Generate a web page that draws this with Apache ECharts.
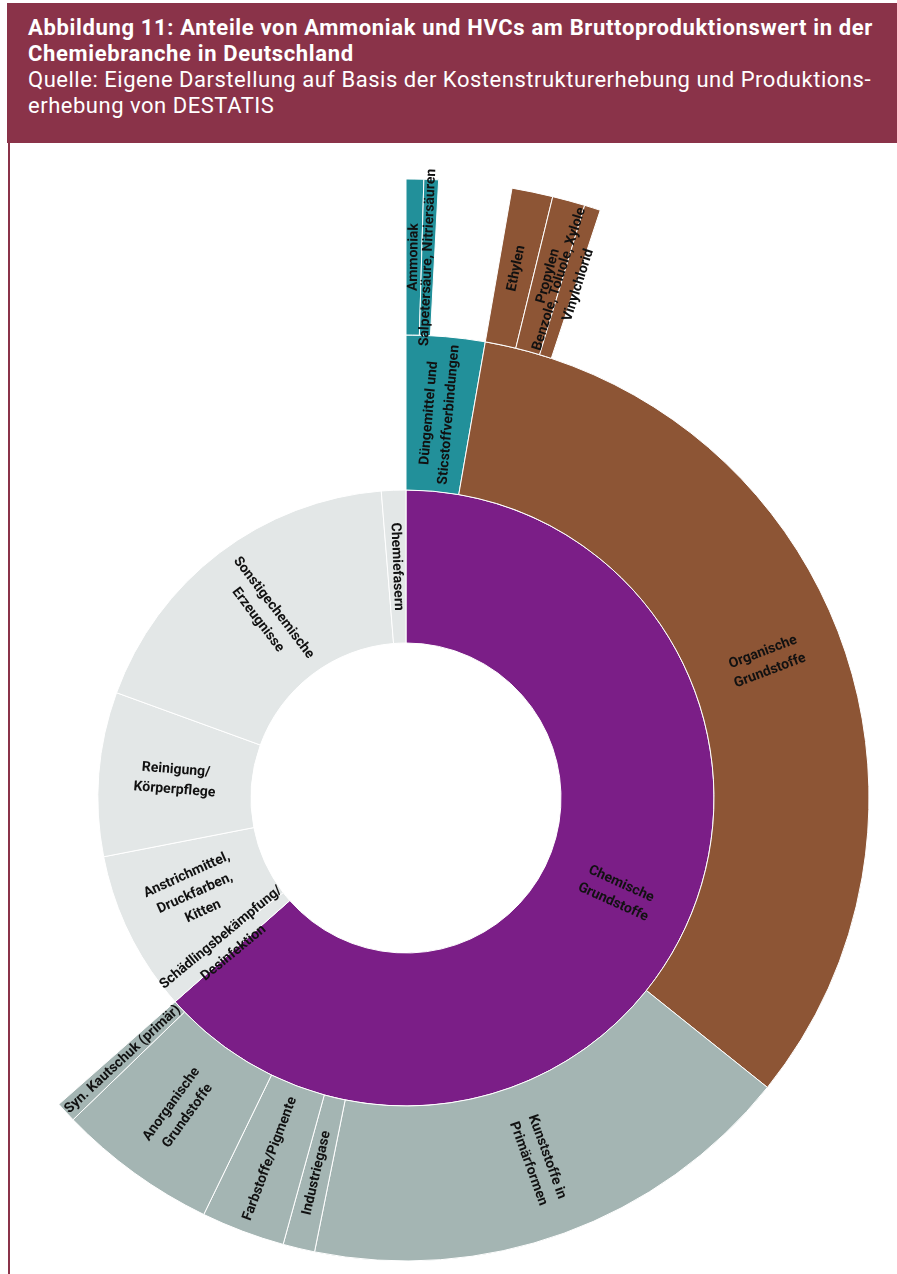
<!DOCTYPE html>
<html>
<head>
<meta charset="utf-8">
<script src="https://cdn.jsdelivr.net/npm/echarts@6/dist/echarts.min.js"></script>
<style>
  html, body { margin: 0; padding: 0; background: #fff; }
  body { width: 897px; height: 1274px; position: relative; overflow: hidden; font-family: Roboto, "Noto Sans", sans-serif; }
  #chart { position: absolute; left: 0; top: 0; width: 897px; height: 1274px; }
  #head { position: absolute; left: 7px; top: 3px; width: 890px; height: 140px; background: #8a3349; color: #fff; z-index: 2; }
  #head .ln { position: absolute; left: 21px; white-space: nowrap; font-size: 22px; line-height: 26px; }
  #head .b { font-weight: bold; }
  #rule { position: absolute; left: 8px; top: 143px; width: 2px; height: 1131px; background: #8a3349; z-index: 2; }
</style>
</head>
<body>
<div id="head">
  <div class="ln b" id="t1" style="top:12px">Abbildung 11: Anteile von Ammoniak und HVCs am Bruttoproduktionswert in der</div>
  <div class="ln b" id="t2" style="top:38px">Chemiebranche in Deutschland</div>
  <div class="ln" id="t3" style="top:64px">Quelle: Eigene Darstellung auf Basis der Kostenstrukturerhebung und Produktions-</div>
  <div class="ln" id="t4" style="top:90px">erhebung von DESTATIS</div>
</div>
<div id="rule"></div>
<div id="chart"></div>
<script>
// Shares of the gross production value of the chemical industry (in %)

// Inner ring: product groups
const sectorNames = [
  'Chemische\nGrundstoffe',
  'Schädlingsbekämpfung/\nDesinfektion',
  'Anstrichmittel,\nDruckfarben,\nKitten',
  'Reinigung/\nKörperpflege',
  'Sonstigechemische\nErzeugnisse',
  'Chemiefasern'
];
// first entry is the sum of its sub-groups
const sectorValues = [null, 1.06, 7.39, 8.61, 18.17, 1.28];

// Middle ring: sub-groups of "Chemische Grundstoffe"
const basicNames = [
  'Düngemittel und\nSticstoffverbindungen',
  'Organische\nGrundstoffe',
  'Kunststoffe in\nPrimärformen',
  'Industriegase',
  'Farbstoffe/Pigmente',
  'Anorganische\nGrundstoffe',
  'Syn. Kautschuk (primär)'
];
const basicValues = [2.74, 33.01, 17.42, 1.11, 2.92, 5.58, 0.72];

// Outer ring: single products
const nitrogenNames = ['Ammoniak', 'Salpetersäure, Nitriersäuren'];
const nitrogenValues = [0.46, 0.38];
const organicNames = ['Ethylen', 'Propylen', 'Benzole, Toluole, Xylole\nVinylchlorid'];
const organicValues = [1.07, 0.85, 0.42];

const PURPLE = '#7b1e87';
const BROWN = '#8d5535';
const TEAL = '#22909a';
const SAGE = '#a4b5b3';
const PALE = '#e3e7e7';

function leaves(names, values, color) {
  return names.map((name, i) => ({ name, value: values[i], itemStyle: { color } }));
}

const basicChildren = basicNames.map((name, i) => {
  const color = i === 0 ? TEAL : i === 1 ? BROWN : SAGE;
  const node = { name, value: basicValues[i], itemStyle: { color } };
  if (i === 0) node.children = leaves(nitrogenNames, nitrogenValues, TEAL);
  if (i === 1) node.children = leaves(organicNames, organicValues, BROWN);
  return node;
});

const data = sectorNames.map((name, i) => {
  if (i === 0) return { name, itemStyle: { color: PURPLE }, children: basicChildren };
  return { name, value: sectorValues[i], itemStyle: { color: PALE } };
});

const chart = echarts.init(document.getElementById('chart'), null, { renderer: 'canvas' });
chart.setOption({
  animation: false,
  series: [{
    type: 'sunburst',
    center: [406, 798],
    radius: [155, 619],
    sort: null,
    startAngle: 90,
    nodeClick: false,
    emphasis: { disabled: true },
    itemStyle: { borderColor: '#ffffff', borderWidth: 1 },
    label: {
      rotate: 'radial',
      color: '#111',
      fontFamily: 'Roboto',
      fontWeight: 'bold',
      fontSize: 14,
      lineHeight: 20
    },
    levels: [
      {},
      { r0: 155, r: 308 },
      { r0: 308, r: 463 },
      { r0: 463, r: 619 }
    ],
    data
  }]
});

// stretch the heading lines to the text block width
function fit(a, b, w) {
  const el = document.getElementById(a);
  el.style.letterSpacing = '0px';
  const n = el.textContent.length;
  const cur = el.getBoundingClientRect().width;
  const ls = (w - cur) / n;
  el.style.letterSpacing = ls + 'px';
  document.getElementById(b).style.letterSpacing = ls + 'px';
}
function fitAll() { fit('t1', 't2', 845); fit('t3', 't4', 843); }
fitAll();
if (document.fonts && document.fonts.ready) document.fonts.ready.then(fitAll);
</script>
</body>
</html>
